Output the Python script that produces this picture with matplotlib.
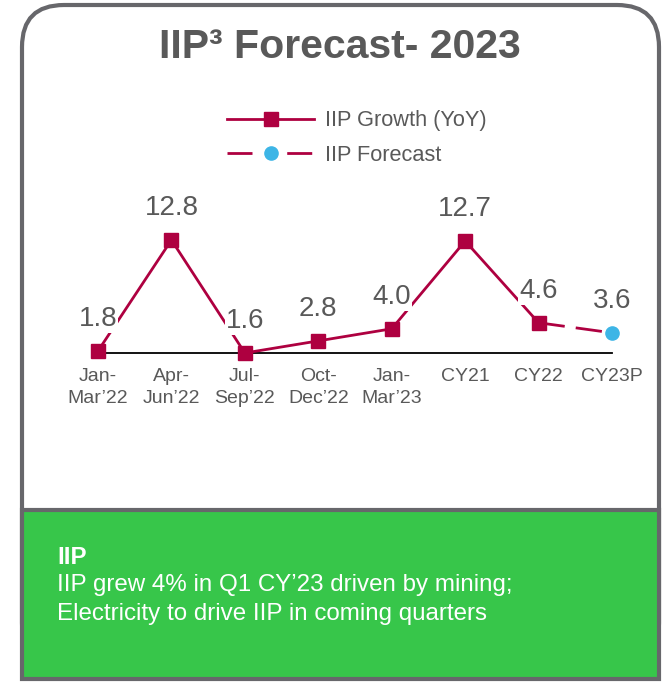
import matplotlib
matplotlib.use("Agg")
import matplotlib.pyplot as plt
from matplotlib.lines import Line2D
from matplotlib.patches import FancyBboxPatch, Rectangle
from matplotlib import font_manager

# chart data
categories = ["Jan-\nMar\u201922", "Apr-\nJun\u201922", "Jul-\nSep\u201922", "Oct-\nDec\u201922",
              "Jan-\nMar\u201923", "CY21", "CY22", "CY23P"]
growth = [1.8, 12.8, 1.6, 2.8, 4.0, 12.7, 4.6]   # IIP Growth (YoY)
forecast = [4.6, 3.6]                            # CY22 -> CY23P
title = "IIP\u00b3 Forecast- 2023"
note_head = "IIP"
note_lines = ["IIP grew 4% in Q1 CY\u201923 driven by mining;",
              "Electricity to drive IIP in coming quarters"]

maroon = "#AE0040"
cyan = "#3DB5E6"
grey_txt = "#595959"
border = "#67676B"
green = "#37C64A"

names = {f.name for f in font_manager.fontManager.ttflist}
regular = "Liberation Sans"
narrow = "Liberation Sans Narrow" if "Liberation Sans Narrow" in names else "Liberation Sans"
title_size = 32 if narrow != regular else 29.5

W, H = 665, 683
fig = plt.figure(figsize=(W / 100, H / 100), dpi=100)

# background canvas in pixel units
bg = fig.add_axes([0, 0, 1, 1], zorder=0)
bg.set_xlim(0, W)
bg.set_ylim(H, 0)
bg.axis("off")
bg.add_patch(FancyBboxPatch((22, 5), 637, 660, boxstyle="round,pad=0,rounding_size=42",
                            fc="white", ec=border, lw=3, zorder=1))
bg.add_patch(Rectangle((22, 510), 637, 169, fc=green, ec=border, lw=3, zorder=2))
bg.text(340, 47, title, ha="center", va="center", fontsize=title_size, fontweight="bold",
        color=grey_txt, family=narrow)
bg.text(57, 558, note_head, ha="left", va="center", fontsize=17.4, fontweight="bold",
        color="white", family=narrow, zorder=3)
for i, line in enumerate(note_lines):
    bg.text(57, 585 + i * 29, line, ha="left", va="center", fontsize=17.4,
            color="white", family=regular, zorder=3)

# line chart
step = 73.43
x0, xend, ybase = 98, 612, 353
ppu = (ybase - 240) / (max(growth) - min(growth))
ymin = min(growth + forecast)
top_px = 195
ax = fig.add_axes([(x0 - step / 2) / W, 1 - ybase / H,
                   (xend - x0 + step) / W, (ybase - top_px) / H], zorder=2)
ax.patch.set_alpha(0)
ax.set_xlim(-0.5, len(categories) - 0.5)
ax.set_ylim(ymin, ymin + (ybase - top_px) / ppu)

xs = list(range(len(growth)))
xf = [len(growth) - 1, len(growth)]
ax.plot(xf, forecast, color=maroon, lw=2, dashes=(9.5, 4), zorder=3, clip_on=False)
ax.plot(xs, growth, color=maroon, lw=2, marker="s", ms=9.5, zorder=4, clip_on=False)
ax.plot(xf[-1:], forecast[-1:], ls="none", marker="o", ms=9.5, color=cyan,
        zorder=5, clip_on=False)

labels = growth + forecast[-1:]
for x, v in zip(range(len(labels)), labels):
    ax.annotate(f"{v:.1f}", (x, v), xytext=(0, 23), textcoords="offset points",
                ha="center", va="center", fontsize=20, color=grey_txt, family=regular,
                zorder=6, bbox=dict(fc="white", ec="none", pad=0.5))

for s in ["top", "left", "right"]:
    ax.spines[s].set_visible(False)
ax.spines["bottom"].set_bounds(0, len(categories) - 1)
ax.spines["bottom"].set_linewidth(1.3)
ax.spines["bottom"].set_zorder(2)
ax.set_yticks([])
ax.set_xticks(range(len(categories)))
ax.set_xticklabels(categories, fontsize=14, color=grey_txt, family=regular,
                   linespacing=1.35)
ax.tick_params(axis="x", length=0, pad=11)

handles = [
    Line2D([], [], color=maroon, lw=2, marker="s", ms=9.5),
    Line2D([], [], color=maroon, lw=2, dashes=(9, 12.5), marker="o", ms=9.5,
           mfc=cyan, mec=cyan),
]
fig.legend(handles, ["IIP Growth (YoY)", "IIP Forecast"], loc="center left",
           bbox_to_anchor=(227 / W, 1 - 138 / H), frameon=False, borderpad=0,
           borderaxespad=0, handlelength=4.0, handletextpad=0.5, labelspacing=0.62,
           prop={"family": regular, "size": 15.7}, labelcolor=grey_txt)

fig.savefig("out.png", dpi=100)
